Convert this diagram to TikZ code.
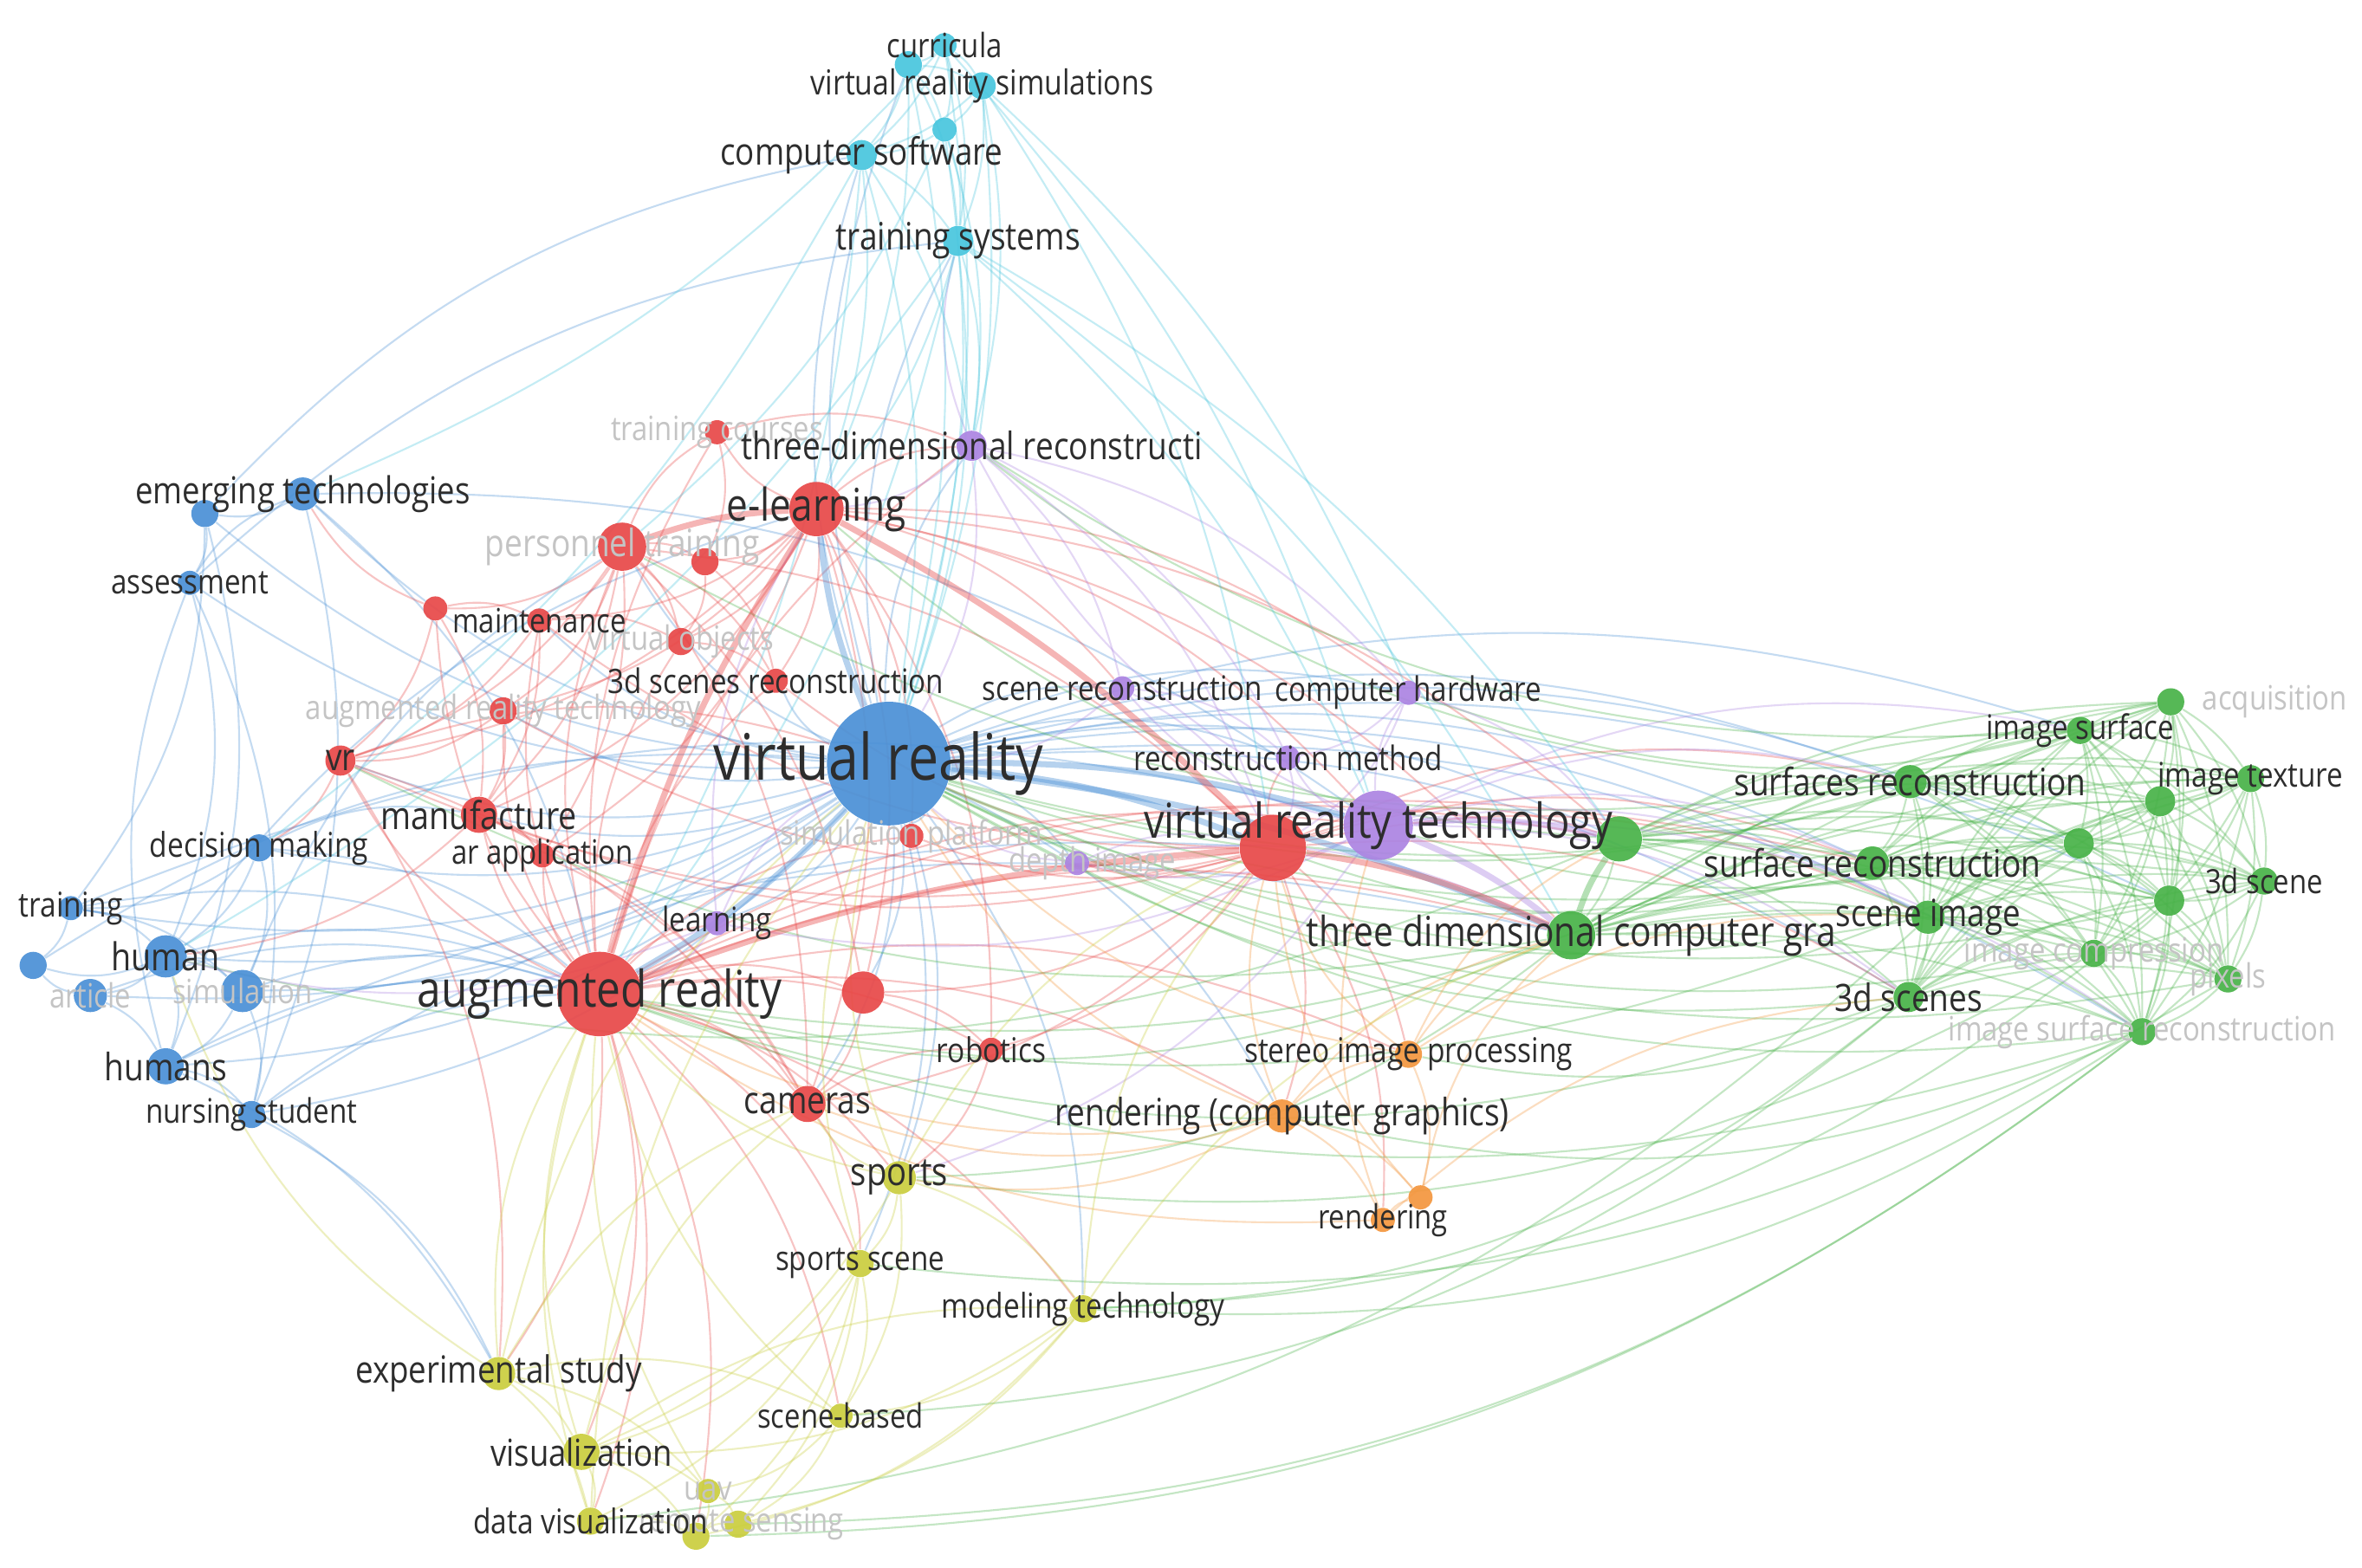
\documentclass[tikz,border=0pt]{standalone}
\usepackage{fontspec}
\newfontfamily\vosfont{Open Sans}[FakeStretch=0.85]
\usepackage{tikz}
\usetikzlibrary{backgrounds}
\definecolor{vblue}{RGB}{74,144,214}
\definecolor{vred}{RGB}{232,72,72}
\definecolor{vgreen}{RGB}{72,178,72}
\definecolor{vyellow}{RGB}{202,206,62}
\definecolor{vpurple}{RGB}{172,132,226}
\definecolor{vcyan}{RGB}{72,198,222}
\definecolor{vorange}{RGB}{244,150,62}
\definecolor{lbltext}{RGB}{45,45,45}
\definecolor{lblfaint}{RGB}{196,196,196}
\tikzset{
 dot/.style={circle,inner sep=0pt,minimum size=#1*0.0348cm,fill opacity=.92},
 lbl/.style={inner sep=0pt,text=lbltext,font=\vosfont\fontsize{#1}{#1}\selectfont},
 faint/.style={lbl=#1,text=lblfaint},
 link/.style={line width=.6pt,draw opacity=.32},
 fat/.style={line width=2pt,draw opacity=.4},
 bluelink/.style={link,vblue},
 redlink/.style={link,vred},
 greenlink/.style={link,vgreen},
 yellowlink/.style={link,vyellow},
 purplelink/.style={link,vpurple},
 cyanlink/.style={link,vcyan},
 orangelink/.style={link,vorange}
}
\begin{document}
\begin{tikzpicture}[x=0.017385cm,y=-0.017385cm]
\useasboundingbox (0,0) rectangle (1568,1041);
\foreach \n/\x/\y/\r in {cur/627/30/8,cy1/603/43/9,vrsim/652/57/9,cy2/627/86/8,csoft/572/103/10,tsys/636/160/10}
 \node[dot=\r,fill=vcyan] (\n) at (\x,\y) {};
\foreach \n/\x/\y/\r in {tdr/645/296/10,screc/745/457/8,chw/935/460/8,rmeth/855/503/8,vrtp/915/548/23,dimg/715/573/8,learn/476/613/8}
 \node[dot=\r,fill=vpurple] (\n) at (\x,\y) {};
\foreach \n/\x/\y/\r in {trc/476/287/8,elearn/542/338/18,ptrain/413/363/16,r1/468/373/9,maint/358/412/8,r2/289/404/8,vobj/452/426/9,tdsr/515/452/8,artech/334/472/9,vrr/226/505/10,manuf/318/541/12,arapp/360/568/8,simp/605/555/8,aug/398/660/28,r3/573/659/14,robot/658/697/8,cam/536/733/12,vrtr/845/563/22}
 \node[dot=\r,fill=vred] (\n) at (\x,\y) {};
\foreach \n/\x/\y/\r in {vreal/590/507/41,emtech/201/328/11,b1/136/341/9,assess/126/387/8,dm/172/563/9,train/47/603/8,human/110/635/14,b2/22/641/9,article/60/661/11,simu/161/658/14,humans/110/708/12,nurse/167/740/9}
 \node[dot=\r,fill=vblue] (\n) at (\x,\y) {};
\foreach \n/\x/\y/\r in {g1/1075/557/15,tdcg/1043/621/16,sfrec/1268/519/11,srec/1243/573/11,scimg/1280/609/11,tdscs/1267/662/10,imsurf/1381/485/9,acq/1441/466/9,imtex/1494/517/9,g2/1434/532/10,g3/1380/560/10,tdsc/1503/585/9,g4/1440/598/10,imcomp/1390/633/9,pix/1479/650/9,isr/1422/685/9}
 \node[dot=\r,fill=vgreen] (\n) at (\x,\y) {};
\foreach \n/\x/\y/\r in {sip/935/700/9,rcg/851/741/11,rend/918/810/8,o1/943/795/8}
 \node[dot=\r,fill=vorange] (\n) at (\x,\y) {};
\foreach \n/\x/\y/\r in {sports/597/782/11,spsc/571/839/9,modt/719/869/9,exps/331/912/11,scb/558/940/8,visu/386/964/12,uav/470/990/8,datav/392/1010/9,y1/462/1020/9,rsens/490/1012/9}
 \node[dot=\r,fill=vyellow] (\n) at (\x,\y) {};

\begin{scope}[on background layer]
\fill[white] (0,0) rectangle (1568,1041);
\foreach \a/\b in {vreal/ptrain,vreal/g1,vreal/csoft,vreal/tsys,vreal/cy1,vreal/human,vreal/humans,vreal/simu,vreal/dm,vreal/emtech,vreal/vrr,vreal/manuf,vreal/sfrec,vreal/srec,vreal/scimg,vreal/tdscs,vreal/g3,vreal/imsurf,vreal/train,vreal/nurse,vreal/article,vreal/tdr,vreal/screc,vreal/chw,vreal/cam,vreal/sports,vreal/r3,vreal/learn,vreal/artech,vreal/maint,vreal/b1,vreal/assess,vreal/rcg,vreal/modt,vreal/spsc,vreal/rmeth,vreal/dimg,vreal/simp,vreal/tdsr,vreal/isr,vreal/g4,
 emtech/b1,assess/emtech,b1/assess,assess/human,humans/assess,human/b2,human/article,human/simu,human/humans,train/human,train/b2,train/simu,dm/train,article/b2,article/humans,simu/humans,simu/nurse,humans/nurse,dm/human,dm/simu,human/aug,simu/aug,humans/aug,nurse/aug,train/aug,dm/aug,article/aug,emtech/vrtp,b1/csoft,assess/tsys,human/elearn,simu/ptrain,nurse/vrtr,humans/tdcg,train/vrtp,b2/vreal,dm/manuf,emtech/aug,humans/exps,nurse/exps,b1/humans,emtech/nurse,b1/train,assess/nurse}
 \draw[bluelink] (\a) to[bend left=18] (\b);
\foreach \a/\b in {aug/ptrain,aug/manuf,aug/vrr,aug/arapp,aug/cam,aug/robot,aug/r3,aug/learn,aug/vrtp,aug/tdcg,aug/maint,aug/artech,aug/exps,aug/visu,aug/datav,aug/sports,aug/spsc,aug/tdr,aug/simp,aug/r2,aug/vobj,aug/tdsr,aug/trc,aug/g1,aug/srec,aug/rcg,aug/sip,aug/modt,aug/scb,aug/y1,
 elearn/r1,elearn/trc,elearn/maint,elearn/vobj,elearn/tdsr,elearn/vrtp,elearn/artech,elearn/vrr,elearn/manuf,elearn/tdr,elearn/r3,elearn/robot,elearn/simp,elearn/cam,elearn/g1,elearn/screc,elearn/chw,elearn/tdcg,elearn/arapp,
 ptrain/r1,ptrain/maint,ptrain/r2,ptrain/vobj,ptrain/artech,ptrain/vrr,ptrain/manuf,ptrain/arapp,ptrain/trc,ptrain/cam,ptrain/r3,ptrain/tdsr,ptrain/vrtr,
 vrtr/g1,vrtr/sfrec,vrtr/srec,vrtr/scimg,vrtr/tdscs,vrtr/rcg,vrtr/sip,vrtr/rend,vrtr/r3,vrtr/robot,vrtr/cam,vrtr/simp,vrtr/manuf,vrtr/vrr,vrtr/artech,vrtr/dimg,vrtr/rmeth,vrtr/tdsr,vrtr/maint,
 r2/vrr,r2/manuf,maint/vrr,maint/manuf,artech/vrr,artech/manuf,manuf/arapp,manuf/cam,vrr/cam,r3/robot,r3/cam,cam/robot,trc/r1,r1/vobj,vrr/vreal,maint/vobj,trc/tdr,r1/tdsr,vobj/tdsr,r2/maint,arapp/cam,robot/sports,cam/spsc,vrr/exps,manuf/human,vrr/dm,r2/emtech}
 \draw[redlink] (\a) to[bend left=18] (\b);
\foreach \a [count=\i] in {g1,tdcg,sfrec,srec,scimg,tdscs,imsurf,acq,imtex,g2,g3,tdsc,g4,imcomp,pix,isr}
 \foreach \b [count=\j] in {g1,tdcg,sfrec,srec,scimg,tdscs,imsurf,acq,imtex,g2,g3,tdsc,g4,imcomp,pix,isr}
  {\ifnum\j>\i \draw[greenlink] (\a) to[bend left=12] (\b); \fi}
\foreach \a/\b in {tdcg/aug,g1/elearn,sfrec/ptrain,srec/vreal,scimg/vreal,imsurf/vreal,acq/vreal,tdscs/aug,isr/aug,isr/modt,tdscs/modt,pix/spsc,isr/rsens,scimg/datav,tdscs/scb,imcomp/sports,g4/modt,isr/y1,tdcg/sports,tdcg/vrr,g1/human,sfrec/tdr,imsurf/tdr,acq/chw,srec/vrtr,isr/rcg,tdscs/sip,imtex/vreal,g2/vrtp,tdsc/vreal,pix/vreal,imcomp/vreal,isr/vreal,tdscs/vreal,g3/aug,sfrec/aug}
 \draw[greenlink] (\a) to[bend left=18] (\b);
\foreach \a/\b in {vrtp/tdr,vrtp/screc,vrtp/chw,vrtp/rmeth,vrtp/dimg,vrtp/learn,vrtp/sfrec,vrtp/srec,vrtp/scimg,vrtp/imsurf,vrtp/sports,vrtp/tdscs,vrtp/isr,tdr/vreal,tdr/elearn,tdr/screc,tdr/rmeth,tdr/chw,tdr/vrtr,tdr/tsys,screc/vreal,screc/rmeth,chw/vrtr,chw/rmeth,chw/g1,dimg/vreal,dimg/vrtr,learn/aug,learn/vreal,learn/elearn,learn/human,rmeth/vrtr,screc/vrtr,dimg/tdcg}
 \draw[purplelink] (\a) to[bend left=18] (\b);
\foreach \a/\b in {cur/cy1,cur/vrsim,cur/cy2,cur/csoft,cy1/vrsim,cy1/cy2,cy1/csoft,vrsim/cy2,vrsim/csoft,cy2/csoft,csoft/tsys,cy2/tsys,vrsim/tsys,cur/tsys,cy1/tsys,csoft/vreal,tsys/vreal,cy1/vreal,cur/vreal,vrsim/vreal,cy2/vreal,tsys/elearn,csoft/elearn,tsys/aug,csoft/aug,tsys/vrtp,cur/vrtp,vrsim/vrtr,tsys/human,csoft/dm,cy2/ptrain,tsys/tdcg,cur/emtech,vrsim/tdr,cy2/tdr,tsys/tdr,csoft/tdr,cy1/elearn,tsys/g1,vrsim/chw}
 \draw[cyanlink] (\a) to[bend left=12] (\b);
\foreach \a/\b in {rcg/vrtr,rcg/vreal,rcg/tdcg,rcg/sip,rcg/rend,rcg/o1,sip/vrtr,sip/tdcg,sip/o1,rend/o1,o1/vrtr,rend/vrtp,sip/g1,rcg/aug,rend/tdscs,rcg/cam,sip/vreal,rend/aug,o1/tdcg,rcg/sports,sip/scimg}
 \draw[orangelink] (\a) to[bend left=18] (\b);
\foreach \a/\b in {sports/spsc,sports/vreal,sports/aug,sports/cam,sports/modt,sports/visu,sports/scb,spsc/scb,spsc/visu,spsc/datav,spsc/y1,spsc/rsens,modt/rsens,modt/y1,modt/scb,modt/visu,modt/tdcg,modt/vrtr,exps/visu,exps/datav,exps/aug,exps/vreal,exps/human,visu/datav,visu/uav,visu/y1,visu/aug,uav/y1,uav/rsens,y1/rsens,datav/y1,datav/aug,scb/rsens,scb/uav,exps/cam,visu/cam,sports/vrtr,spsc/vreal,datav/vreal,uav/aug,scb/aug,exps/uav,exps/scb,visu/modt}
 \draw[yellowlink] (\a) to[bend left=18] (\b);
\foreach \a/\b/\c in {vreal/aug/vblue,vreal/vrtp/vblue,vreal/vrtr/vblue,vreal/elearn/vblue,vreal/tdcg/vblue,elearn/vrtr/vred,aug/vrtr/vred,vrtr/tdcg/vred,vrtp/g1/vpurple,tdcg/g1/vgreen,vrtp/tdcg/vpurple,ptrain/elearn/vred,aug/elearn/vred}
 \draw[fat,\c] (\a) to[bend left=8] (\b);
\end{scope}

\foreach \n/\s/\t/\dx in {trc/11/training courses/0,ptrain/12.4/personnel training/0,vobj/11/virtual objects/0,artech/11/augmented reality technology/0,simp/11/simulation platform/0,dimg/11/depth image/10,article/11/article/0,simu/11/simulation/0,acq/11/acquisition/69,imcomp/11/image compression/0,pix/11/pixels/0,isr/11/image surface reconstruction/0,uav/11/uav/0,rsens/11/remote sensing/2}
 \node[faint=\s,xshift=\dx*0.017385cm] (t\n) at (\n) {\t};
\foreach \n/\s/\t in {cur/11/curricula,vrsim/11.3/virtual reality simulations,csoft/12.3/computer software,tsys/12.4/training systems,
 tdr/12.4/three-dimensional reconstructi,screc/11.1/scene reconstruction,chw/11.1/computer hardware,rmeth/11.1/reconstruction method,vrtp/15.8/virtual reality technology,learn/11.1/learning,
 elearn/14.8/e-learning,maint/11/maintenance,tdsr/11.1/3d scenes reconstruction,vrr/12.4/vr,manuf/12.6/manufacture,arapp/11/ar application,aug/16.6/augmented reality,robot/11.2/robotics,cam/12.4/cameras,
 emtech/12.2/emerging technologies,assess/11.1/assessment,dm/11.2/decision making,train/11.2/training,human/12.6/human,humans/12.4/humans,nurse/11.1/nursing student,
 tdcg/13.6/three dimensional computer gra,sfrec/12.4/surfaces reconstruction,srec/12.4/surface reconstruction,scimg/12.3/scene image,tdscs/12.4/3d scenes,imsurf/11.1/image surface,imtex/11.1/image texture,tdsc/11/3d scene,
 sip/11.2/stereo image processing,rcg/12.4/rendering (computer graphics),rend/11/rendering,
 sports/12.8/sports,spsc/11.1/sports scene,modt/11.2/modeling technology,exps/12.3/experimental study,scb/11/scene-based,visu/12.2/visualization,datav/11.2/data visualization}
 \node[lbl=\s] (t\n) at (\n) {\t};
\node[lbl=21,xshift=-7*0.017385cm] (tvreal) at (vreal) {virtual reality};
\end{tikzpicture}
\end{document}
